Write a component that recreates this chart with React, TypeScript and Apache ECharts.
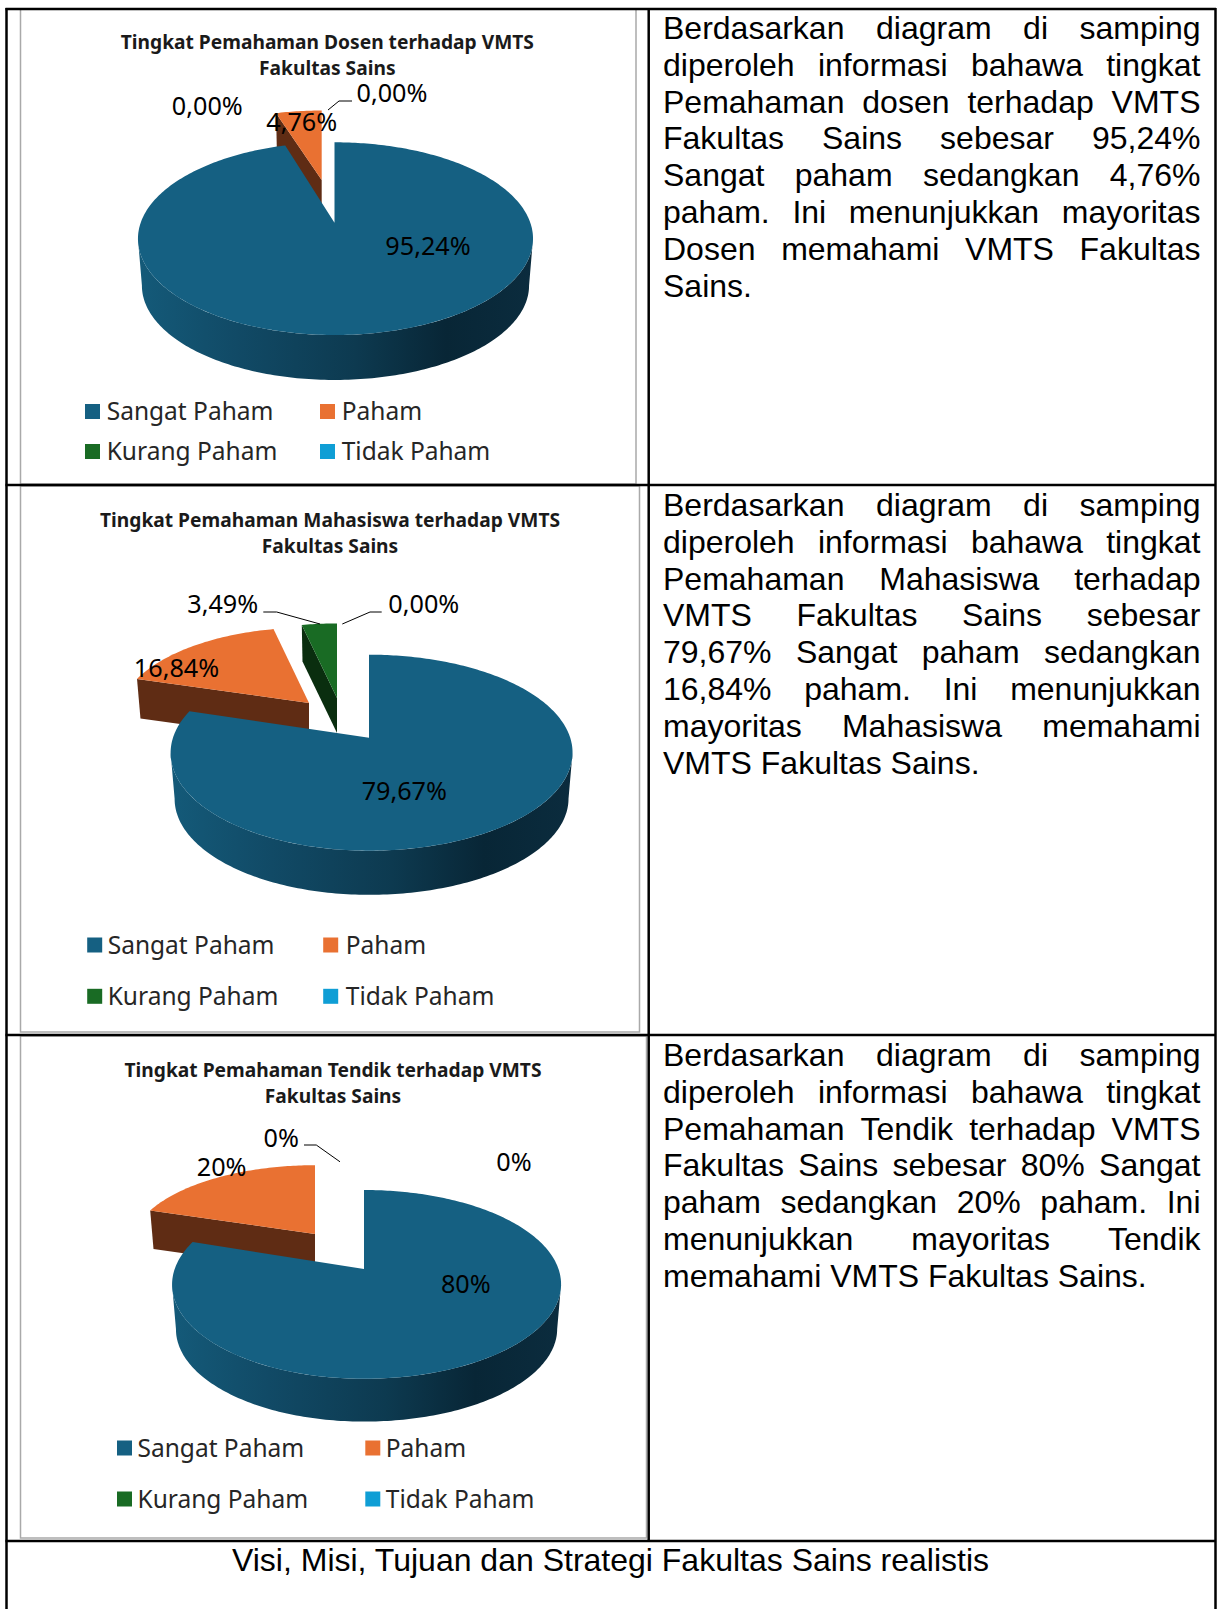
import React, { useEffect, useRef } from "react";
import * as echarts from "echarts";

const categories = ["Sangat Paham", "Paham", "Kurang Paham", "Tidak Paham"];
const dosenValues = [95.24, 4.76, 0, 0];
const mahasiswaValues = [79.67, 16.84, 3.49, 0];
const tendikValues = [80, 20, 0, 0];

const dosenLabels = ["95,24%", "4,76%", "0,00%", "0,00%"];
const mahasiswaLabels = ["79,67%", "16,84%", "3,49%", "0,00%"];
const tendikLabels = ["80%", "20%", "0%", "0%"];

const titleLine2 = "Fakultas Sains";
const dosenTitle = "Tingkat Pemahaman Dosen terhadap VMTS";
const mahasiswaTitle = "Tingkat Pemahaman Mahasiswa terhadap VMTS";
const tendikTitle = "Tingkat Pemahaman Tendik terhadap VMTS";

const dosenText = [
  "Berdasarkan diagram di samping",
  "diperoleh informasi bahawa tingkat",
  "Pemahaman dosen terhadap VMTS",
  "Fakultas Sains sebesar 95,24%",
  "Sangat paham sedangkan 4,76%",
  "paham. Ini menunjukkan mayoritas",
  "Dosen memahami VMTS Fakultas",
  "Sains.",
];
const mahasiswaText = [
  "Berdasarkan diagram di samping",
  "diperoleh informasi bahawa tingkat",
  "Pemahaman Mahasiswa terhadap",
  "VMTS Fakultas Sains sebesar",
  "79,67% Sangat paham sedangkan",
  "16,84% paham. Ini menunjukkan",
  "mayoritas Mahasiswa memahami",
  "VMTS Fakultas Sains.",
];
const tendikText = [
  "Berdasarkan diagram di samping",
  "diperoleh informasi bahawa tingkat",
  "Pemahaman Tendik terhadap VMTS",
  "Fakultas Sains sebesar 80% Sangat",
  "paham sedangkan 20% paham. Ini",
  "menunjukkan mayoritas Tendik",
  "memahami VMTS Fakultas Sains.",
];
const footerText = "Visi, Misi, Tujuan dan Strategi Fakultas Sains realistis";

const COLORS = ["#156082", "#e97132", "#196b24", "#0f9ed5"];
const WALLS = ["#0f4059", "#5f2c14", "#0a2e0f", "#0a5a7a"];
const BODY_FONT = "32px 'Liberation Sans', Arial, sans-serif";
const LABEL_FONT = "25.2px 'Noto Sans', sans-serif";
const LEGEND_FONT = "24.5px 'Noto Sans', sans-serif";
const TITLE_FONT = "bold 19.2px 'Noto Sans', sans-serif";

type Slice = { ax: number; ay: number; sx: number; sy: number; depth: number; z: number; ox?: number };
type ChartDef = {
  values: number[];
  labels: string[];
  title: string;
  p: number;
  slices: Slice[];
  labelPos: number[][];
  leaders: number[][][];
  titleX: number;
  titleY: number[];
  frame: number[];
  legendX: number[];
  legendTextX: number[];
  legendY: number[];
};

const charts: ChartDef[] = [
  {
    values: dosenValues,
    labels: dosenLabels,
    title: dosenTitle,
    p: 0.1656,
    slices: [
      { ax: 334.5, ay: 222.7, sx: 194.8, sy: 93.7, depth: 47.2, z: 30, ox: 1 },
      { ax: 321.7, ay: 180, sx: 179.5, sy: 81, depth: 40, z: 10 },
      { ax: 321, ay: 180, sx: 170, sy: 80, depth: 35, z: 14 },
      { ax: 321, ay: 180, sx: 170, sy: 80, depth: 35, z: 16 },
    ],
    labelPos: [[428, 245], [301.7, 121], [207.3, 105.2], [392, 92.4]],
    leaders: [[[328, 110], [339, 101], [352, 101]]],
    titleX: 327.3,
    titleY: [41, 67.7],
    frame: [20.5, 9, 615.5, 475],
    legendX: [85, 320],
    legendTextX: [106.7, 341.7],
    legendY: [410.5, 450.5],
  },
  {
    values: mahasiswaValues,
    labels: mahasiswaLabels,
    title: mahasiswaTitle,
    p: 0.153,
    slices: [
      { ax: 369, ay: 737.7, sx: 198.6, sy: 95.7, depth: 46.4, z: 30, ox: 2.6 },
      { ax: 309, ay: 703, sx: 187.6, sy: 87, depth: 39, z: 10 },
      { ax: 337, ay: 698, sx: 186, sy: 86, depth: 35, z: 14 },
      { ax: 337, ay: 698, sx: 186, sy: 86, depth: 35, z: 16 },
    ],
    labelPos: [[404.3, 790], [176.5, 667], [222.7, 603.4], [423.8, 603.4]],
    leaders: [
      [[263.3, 612], [276.7, 612], [320, 624]],
      [[342.3, 624], [370, 612], [381.7, 612]],
    ],
    titleX: 330,
    titleY: [519, 545],
    frame: [20.5, 486, 619, 546],
    legendX: [87.2, 323.2],
    legendTextX: [107.7, 345.8],
    legendY: [944, 995.3],
  },
  {
    values: tendikValues,
    labels: tendikLabels,
    title: tendikTitle,
    p: 0.163,
    slices: [
      { ax: 364, ay: 1269, sx: 191.9, sy: 91.9, depth: 45, z: 30, ox: 2.6 },
      { ax: 315, ay: 1234, sx: 182, sy: 80, depth: 38, z: 10 },
      { ax: 315, ay: 1234, sx: 180, sy: 80, depth: 35, z: 14 },
      { ax: 315, ay: 1234, sx: 180, sy: 80, depth: 35, z: 16 },
    ],
    labelPos: [[465.8, 1282.6], [221.6, 1165.7], [281.2, 1137], [514, 1160.5]],
    leaders: [[[304, 1145], [316.3, 1145], [340, 1161.8]]],
    titleX: 333,
    titleY: [1069, 1095],
    frame: [20.5, 1036, 626, 502],
    legendX: [117, 365.3],
    legendTextX: [137.5, 385.8],
    legendY: [1447, 1498],
  },
];

const BOTTOM_K = 0.98;

function project(s: Slice, p: number, theta: number, k: number, dz: number) {
  const X = Math.sin(theta);
  const Z = Math.cos(theta);
  const w = 1 + p * Z;
  return [s.ax + (k * s.sx * X) / w + (s.ox || 0) * Math.abs(X), s.ay + dz - (k * s.sy * Z) / w];
}

function arc(s: Slice, p: number, a: number, b: number, k: number, dz: number) {
  const n = Math.max(2, Math.ceil(Math.abs(b - a) / (Math.PI / 180)));
  const pts: number[][] = [];
  for (let i = 0; i <= n; i++) pts.push(project(s, p, a + ((b - a) * i) / n, k, dz));
  return pts;
}

function makeSeries(def: ChartDef) {
  const total = def.values.reduce((x, y) => x + y, 0);
  const starts: number[] = [];
  let acc = 0;
  def.values.forEach((v) => {
    starts.push(acc);
    acc += v;
  });
  return {
    type: "custom",
    name: def.title,
    coordinateSystem: "none",
    silent: true,
    data: def.values.map((v, i) => [i, v]),
    renderItem: (_params: any, api: any) => {
      const i = api.value(0) as number;
      const v = api.value(1) as number;
      const s = def.slices[i];
      const p = def.p;
      const children: any[] = [];
      if (v > 0) {
        const a = (starts[i] / total) * Math.PI * 2;
        const b = ((starts[i] + v) / total) * Math.PI * 2;
        const tip = [s.ax, s.ay];
        const tipLow = [s.ax, s.ay + s.depth];
        if (Math.sin(a) < -0.01) {
          children.push({
            type: "polygon",
            z2: s.z,
            shape: {
              points: [tip, project(s, p, a, 1, 0), project(s, p, a, BOTTOM_K, s.depth), tipLow],
            },
            style: { fill: WALLS[i] },
          });
        }
        const lim = Math.acos(-p);
        const lo = Math.max(a, lim);
        const hi = Math.min(b, Math.PI * 2 - lim);
        if (hi > lo) {
          const top = arc(s, p, lo, hi, 1, 0);
          const bottom = arc(s, p, hi, lo, BOTTOM_K, s.depth);
          children.push({
            type: "polygon",
            z2: s.z,
            shape: { points: top.concat(bottom) },
            style: {
              fill: new echarts.graphic.LinearGradient(1, 0, 0, 0, [
                { offset: 0, color: "#0b2c3e" },
                { offset: 0.22, color: "#082636" },
                { offset: 0.45, color: "#0d3a50" },
                { offset: 0.75, color: "#114a66" },
                { offset: 1, color: "#145a79" },
              ]),
            },
          });
        }
        children.push({
          type: "polygon",
          z2: s.z + 1,
          shape: { points: [tip].concat(arc(s, p, a, b, 1, 0)) },
          style: { fill: COLORS[i] },
        });
      }
      children.push({
        type: "text",
        x: def.labelPos[i][0],
        y: def.labelPos[i][1],
        z2: 60,
        style: {
          text: def.labels[i],
          font: LABEL_FONT,
          fill: "#000000",
          align: "center",
          verticalAlign: "middle",
        },
      });
      return { type: "group", children };
    },
  };
}

function measureWidth(text: string, font: string) {
  const ctx = document.createElement("canvas").getContext("2d")!;
  ctx.font = font;
  return ctx.measureText(text).width;
}

function paragraph(lines: string[], firstY: number, step: number) {
  const left = 663;
  const right = 1200.5;
  const out: any[] = [];
  lines.forEach((line, li) => {
    const y = firstY + li * step;
    const base = { font: BODY_FONT, fill: "#000000", verticalAlign: "middle", align: "left" };
    if (li === lines.length - 1) {
      out.push({ type: "text", x: left, y, style: { ...base, text: line } });
      return;
    }
    const words = line.split(" ");
    const widths = words.map((w) => measureWidth(w, BODY_FONT));
    const gap = (right - left - widths.reduce((a, c) => a + c, 0)) / (words.length - 1);
    let x = left;
    words.forEach((w, wi) => {
      out.push({ type: "text", x, y, style: { ...base, text: w } });
      x += widths[wi] + gap;
    });
  });
  return out;
}

function chartDecor(def: ChartDef) {
  const out: any[] = [];
  const [fx, fy, fw, fh] = def.frame;
  out.push({
    type: "rect",
    shape: { x: fx, y: fy, width: fw, height: fh },
    style: { fill: "#ffffff", stroke: "#a9a9a9", lineWidth: 1.5 },
    z: 1,
  });
  [def.title, titleLine2].forEach((t, i) => {
    out.push({
      type: "text",
      x: def.titleX,
      y: def.titleY[i],
      z: 5,
      style: { text: t, font: TITLE_FONT, fill: "#1a1a1a", align: "center", verticalAlign: "middle" },
    });
  });
  categories.forEach((c, i) => {
    const col = i % 2;
    const row = i < 2 ? 0 : 1;
    out.push({
      type: "rect",
      z: 5,
      shape: { x: def.legendX[col], y: def.legendY[row] - 6.5, width: 15, height: 15 },
      style: { fill: COLORS[i] },
    });
    out.push({
      type: "text",
      z: 5,
      x: def.legendTextX[col],
      y: def.legendY[row],
      style: { text: c, font: LEGEND_FONT, fill: "#262626", align: "left", verticalAlign: "middle" },
    });
  });
  def.leaders.forEach((pts) => {
    out.push({
      type: "polyline",
      z: 5,
      shape: { points: pts },
      style: { stroke: "#000000", lineWidth: 1, fill: "none" },
    });
  });
  return out;
}

function gridLines() {
  const seg = (x1: number, y1: number, x2: number, y2: number) => ({
    type: "line",
    z: 8,
    shape: { x1, y1, x2, y2 },
    style: { stroke: "#000000", lineWidth: 2.5 },
  });
  return [
    seg(5.5, 9, 1216, 9),
    seg(5.5, 485, 1216, 485),
    seg(5.5, 1035, 1216, 1035),
    seg(5.5, 1541, 1216, 1541),
    seg(6.5, 8, 6.5, 1609),
    seg(1215.5, 8, 1215.5, 1609),
    seg(648.7, 9, 648.7, 1541),
  ];
}

export default function App() {
  const ref = useRef<HTMLDivElement>(null);
  useEffect(() => {
    const chart = echarts.init(ref.current!, undefined, { renderer: "svg" });
    chart.setOption({
      animation: false,
      backgroundColor: "#ffffff",
      graphic: {
        elements: [
          ...charts.flatMap(chartDecor),
          ...gridLines(),
          ...paragraph(dosenText, 28, 36.8),
          ...paragraph(mahasiswaText, 505, 36.8),
          ...paragraph(tendikText, 1055, 36.8),
          {
            type: "text",
            x: 610.5,
            y: 1560,
            style: {
              text: footerText,
              font: BODY_FONT,
              fill: "#000000",
              align: "center",
              verticalAlign: "middle",
            },
          },
        ],
      },
      series: charts.map(makeSeries),
    });
    return () => chart.dispose();
  }, []);
  return <div ref={ref} style={{ position: "absolute", left: 0, top: 0, width: 1218, height: 1609 }} />;
}
